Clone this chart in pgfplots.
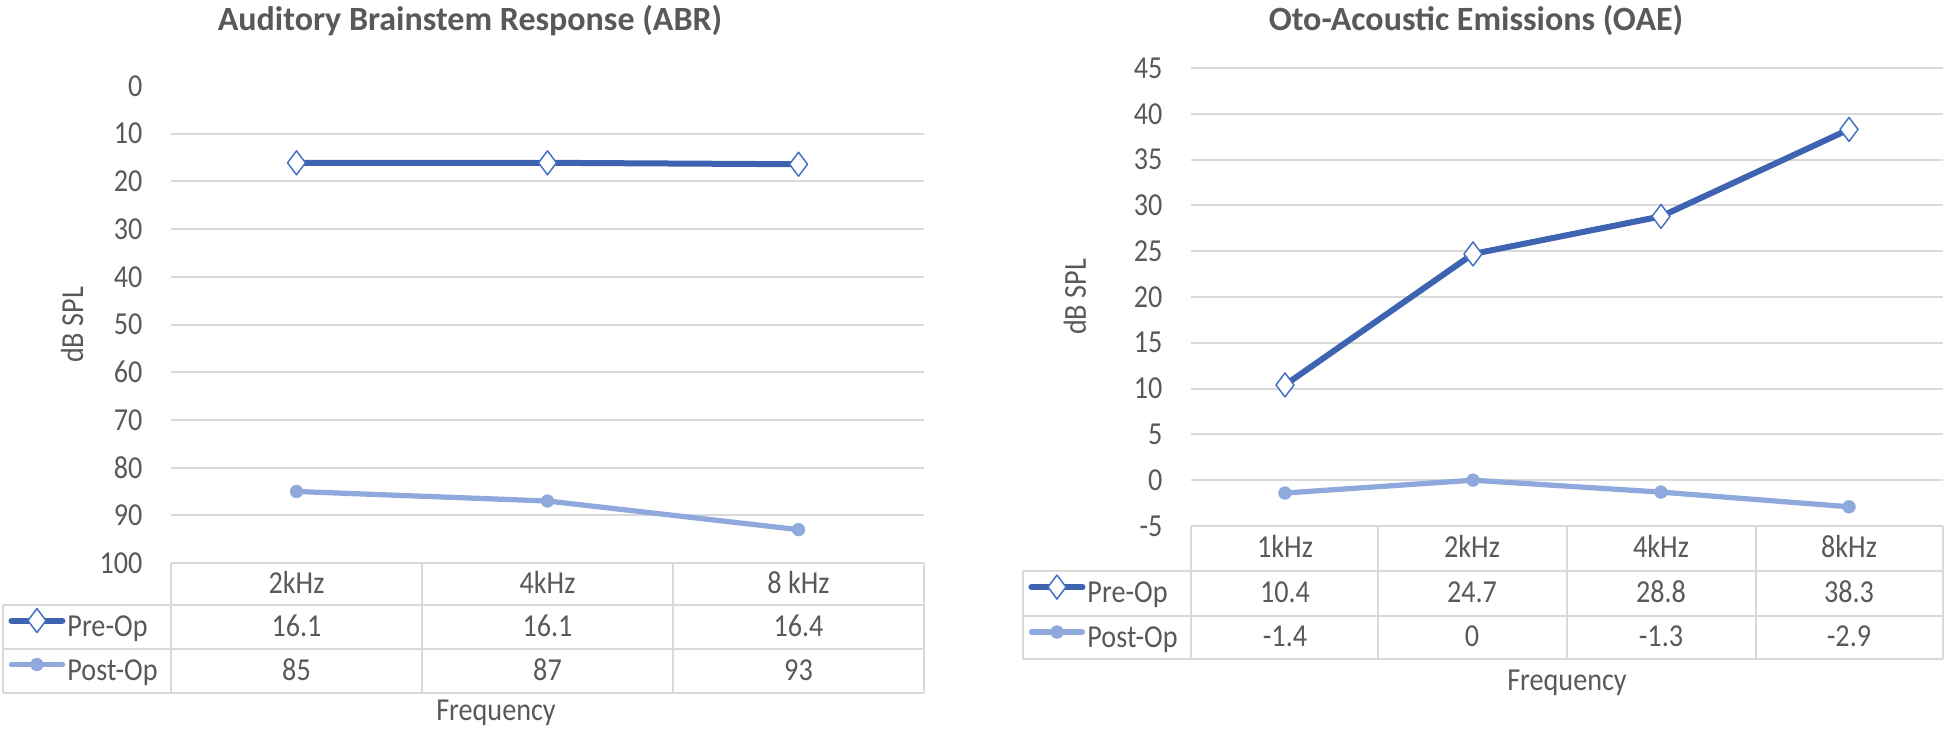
\documentclass[border=0pt]{standalone}
\usepackage{fontspec}
\setmainfont{Carlito}[FakeStretch=0.88]
\newfontfamily\titlefont{Carlito}
\usepackage{pgfplots}
\pgfplotsset{compat=1.18}
\definecolor{gridgray}{HTML}{D9D9D9}
\definecolor{txtgray}{HTML}{595959}
\definecolor{preblue}{HTML}{3D63B1}
\definecolor{mkblue}{HTML}{4472C4}
\definecolor{postblue}{HTML}{8FA9DC}
\newcommand{\tf}{\fontsize{12.8pt}{14pt}\selectfont}
\newcommand{\ttlf}{\titlefont\fontsize{13.6pt}{16pt}\selectfont\bfseries}
\begin{document}
\begin{tikzpicture}
\path[use as bounding box] (0pt,0pt) rectangle (778.4pt,-292.4pt);
\pgfplotsset{
 myax/.style={scale only axis, clip=false, axis line style={draw=none}, major tick length=0pt,
   ymajorgrids, grid style={gridgray, line width=0.8pt}, xtick=\empty,
   tick label style={font=\tf, text=txtgray}, yticklabel style={inner sep=0pt, xshift=-11.2pt},
   /pgf/number format/assume math mode=true, legend cell align=left,
   legend image code/.code={\draw[mark repeat=2,mark phase=2,##1] plot coordinates {(0pt,2.8pt) (10.2pt,2.8pt) (20.4pt,2.8pt)};}},
 pre/.style={preblue, line width=2.4pt, line join=round, line cap=round, mark=diamond*, mark size=4.8pt,
   mark options={fill=white, draw=mkblue, line width=0.6pt}},
 post/.style={postblue, line width=2.1pt, line join=round, line cap=round, mark=*, mark size=2.6pt,
   mark options={fill=postblue, draw=postblue, line width=0.1pt}},
}
% ---------- left chart ----------
\begin{axis}[myax, at={(68.4pt,-34.4pt)}, anchor=north west, width=301.2pt, height=190.8pt,
  xmin=0.5, xmax=3.5, ymin=0, ymax=100, y dir=reverse,
  ytick={10,20,...,90}, extra y ticks={0,100}, extra y tick style={grid=none},
  legend style={at={(-0.2165,-0.0881)}, anchor=north west, draw=none, fill=none, inner sep=0pt, row sep=0pt,
    font=\tf, nodes={inner sep=0.8pt, minimum height=17.6pt, text=txtgray}}]
\addplot[pre] coordinates {(1,16.1) (2,16.1) (3,16.4)};
\addlegendentry{Pre-Op}
\addplot[post] coordinates {(1,85) (2,87) (3,93)};
\addlegendentry{Post-Op}
\end{axis}
% ---------- right chart ----------
\begin{axis}[myax, at={(476.4pt,-27.2pt)}, anchor=north west, width=300.8pt, height=183.2pt,
  xmin=0.5, xmax=4.5, ymin=-5, ymax=45,
  ytick={0,5,...,45}, extra y ticks={-5}, extra y tick style={grid=none},
  legend style={at={(-0.2168,-0.0983)}, anchor=north west, draw=none, fill=none, inner sep=0pt, row sep=0pt,
    font=\tf, nodes={inner sep=0.8pt, minimum height=18pt, text=txtgray}}]
\addplot[pre] coordinates {(1,10.4) (2,24.7) (3,28.8) (4,38.3)};
\addlegendentry{Pre-Op}
\addplot[post] coordinates {(1,-1.4) (2,0) (3,-1.3) (4,-2.9)};
\addlegendentry{Post-Op}
\end{axis}
\begin{scope}[x=0.4pt,y=-0.4pt]
% ---------- left table ----------
\begin{scope}[gridgray, line width=0.8pt]
\draw (171,563) -- (924,563);
\foreach \x in {171,422,673,924} \draw (\x,563) -- (\x,693);
\foreach \y in {605,649,693} \draw (3,\y) -- (924,\y);
\draw (3,605) -- (3,693);
\end{scope}
\begin{scope}[every node/.style={font=\tf, text=txtgray, anchor=base}]
\node at (296.5,593) {2kHz}; \node at (547.5,593) {4kHz}; \node at (798.5,593) {8 kHz};
\node at (296.5,636) {16.1}; \node at (547.5,636) {16.1}; \node at (798.5,636) {16.4};
\node at (296.5,680) {85}; \node at (547.5,680) {87}; \node at (798.5,680) {93};
\node at (496,720) {Frequency};
\node[rotate=90, anchor=center] at (72,325) {dB SPL};
\end{scope}
\node[font=\ttlf, text=txtgray, anchor=base] at (470,30) {Auditory Brainstem Response (ABR)};
% ---------- right table ----------
\begin{scope}[gridgray, line width=0.8pt]
\draw (1191,526) -- (1943,526);
\foreach \x in {1191,1378,1567,1756,1943} \draw (\x,526) -- (\x,659);
\foreach \y in {571,616,659} \draw (1023,\y) -- (1943,\y);
\draw (1023,571) -- (1023,659);
\end{scope}
\begin{scope}[every node/.style={font=\tf, text=txtgray, anchor=base}]
\node at (1285,557) {1kHz}; \node at (1472,557) {2kHz}; \node at (1661,557) {4kHz}; \node at (1849,557) {8kHz};
\node at (1285,602) {10.4}; \node at (1472,602) {24.7}; \node at (1661,602) {28.8}; \node at (1849,602) {38.3};
\node at (1285,646) {-1.4}; \node at (1472,646) {0}; \node at (1661,646) {-1.3}; \node at (1849,646) {-2.9};
\node at (1567,690) {Frequency};
\node[rotate=90, anchor=center] at (1075,297) {dB SPL};
\end{scope}
\node[font=\ttlf, text=txtgray, anchor=base] at (1476,30) {Oto-Acoustic Emissions (OAE)};
\end{scope}
\end{tikzpicture}
\end{document}
